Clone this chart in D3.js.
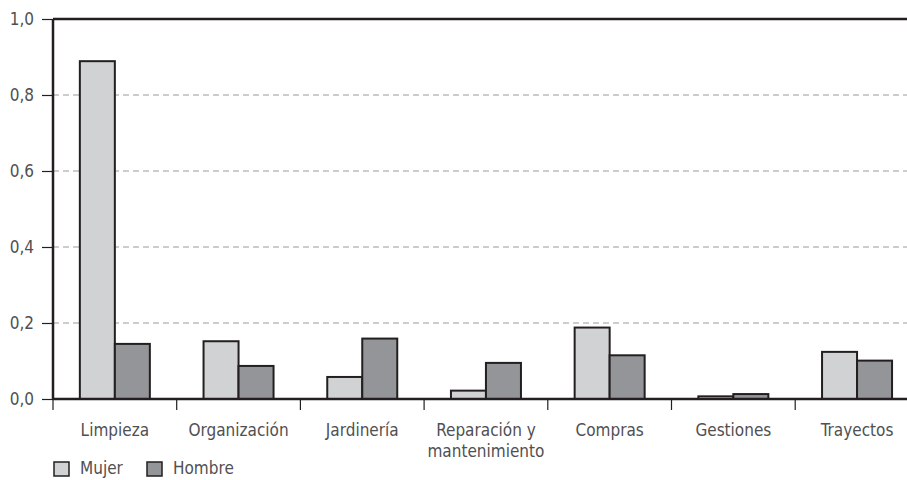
<!DOCTYPE html>
<html>
<head>
<meta charset="utf-8">
<script src="https://cdn.jsdelivr.net/npm/d3@7"></script>
<style>
  body { margin: 0; background: #fff; }
  svg text { font-family: "Liberation Sans Narrow", "DejaVu Sans Condensed", "Roboto", sans-serif; fill: #505052; }
</style>
</head>
<body>
<svg></svg>
<script>
// datos
var categorias = ['Limpieza', 'Organización', 'Jardinería', 'Reparación y\nmantenimiento', 'Compras', 'Gestiones', 'Trayectos'];
var series = ['Mujer', 'Hombre'];
var mujer = [0.889, 0.152, 0.058, 0.022, 0.188, 0.007, 0.124];
var hombre = [0.145, 0.087, 0.159, 0.095, 0.115, 0.013, 0.101];
var yTicks = [0, 0.2, 0.4, 0.6, 0.8, 1.0];
var colores = ['#d1d2d4', '#939598'];

var margin = { top: 19, right: 0, bottom: 81, left: 53 };
var width = 907 - margin.left - margin.right,
    height = 480 - margin.top - margin.bottom;

var svg = d3.select('svg')
    .attr('width', 907)
    .attr('height', 480)
  .append('g')
    .attr('transform', 'translate(' + margin.left + ',' + margin.top + ')');

// las bandas siguen mas alla del borde derecho (el grafico esta recortado)
var x = d3.scaleBand().domain(categorias).range([0, 7 * 123.7]);
var xs = d3.scaleBand().domain(series).range([0, 70]);
var y = d3.scaleLinear().domain([0, 1]).range([height, 0]);

var fmt = function(d) { return d3.format('.1f')(d).replace('.', ','); };

// rejilla
svg.append('g')
  .selectAll('line')
  .data(yTicks.filter(function(d) { return d > 0 && d < 1; }))
  .enter().append('line')
    .attr('x1', 0).attr('x2', width)
    .attr('y1', function(d) { return y(d); })
    .attr('y2', function(d) { return y(d); })
    .attr('stroke', '#9a9a9a')
    .attr('stroke-width', 1)
    .attr('stroke-dasharray', '6,4');

// eje y
var yAxis = d3.axisLeft(y).tickValues(yTicks).tickFormat(fmt).tickSize(11).tickPadding(8);
var gy = svg.append('g').call(yAxis);
gy.select('.domain').remove();
gy.selectAll('line').attr('stroke', '#231f20').attr('stroke-width', 1.2);
gy.selectAll('text').style('font-size', '17px').attr('fill', '#505052');

// barras
var datos = categorias.map(function(c, i) { return { cat: c, vals: [mujer[i], hombre[i]] }; });
var grupos = svg.selectAll('.grupo')
  .data(datos)
  .enter().append('g')
    .attr('transform', function(d) { return 'translate(' + (x(d.cat) + x.bandwidth() / 2 - 35) + ',0)'; });

grupos.selectAll('rect')
  .data(function(d) { return d.vals.map(function(v, j) { return { s: series[j], v: v, j: j }; }); })
  .enter().append('rect')
    .attr('x', function(d) { return xs(d.s); })
    .attr('y', function(d) { return y(d.v); })
    .attr('width', xs.bandwidth())
    .attr('height', function(d) { return height - y(d.v); })
    .attr('fill', function(d) { return colores[d.j]; })
    .attr('stroke', '#231f20')
    .attr('stroke-width', 2);

// eje x
var xAxis = d3.axisBottom(x).tickSize(0).tickFormat('');
var gx = svg.append('g').attr('transform', 'translate(0,' + height + ')').call(xAxis);
gx.select('.domain').remove();
gx.selectAll('.sep')
  .data(categorias)
  .enter().append('line')
    .attr('x1', function(d) { return x(d); })
    .attr('x2', function(d) { return x(d); })
    .attr('y1', 0).attr('y2', 11)
    .attr('stroke', '#231f20').attr('stroke-width', 1.2);

var etiquetas = gx.selectAll('.etq')
  .data(categorias)
  .enter().append('text')
    .attr('text-anchor', 'middle')
    .attr('x', function(d) { return x(d) + x.bandwidth() / 2; })
    .attr('y', 37)
    .style('font-size', '17px');
etiquetas.each(function(d) {
  var lineas = d.split('\n');
  var t = d3.select(this);
  lineas.forEach(function(l, k) {
    t.append('tspan').attr('x', x(d) + x.bandwidth() / 2).attr('dy', k === 0 ? 0 : 21).text(l);
  });
});

// lineas del marco
svg.append('line').attr('x1', 0).attr('x2', width).attr('y1', height).attr('y2', height)
  .attr('stroke', '#231f20').attr('stroke-width', 2.5);
svg.append('line').attr('x1', 0).attr('x2', width).attr('y1', 0).attr('y2', 0)
  .attr('stroke', '#231f20').attr('stroke-width', 2.5);
svg.append('line').attr('x1', 0).attr('x2', 0).attr('y1', 0).attr('y2', height)
  .attr('stroke', '#231f20').attr('stroke-width', 2.5);

// leyenda
var leyenda = svg.append('g').attr('transform', 'translate(0,' + (height + 63) + ')');
var legX = [1, 94];
series.forEach(function(s, i) {
  var g = leyenda.append('g').attr('transform', 'translate(' + legX[i] + ',0)');
  g.append('rect').attr('width', 15).attr('height', 14)
    .attr('fill', colores[i]).attr('stroke', '#231f20').attr('stroke-width', 1.5);
  g.append('text').attr('x', 26).attr('y', 12).style('font-size', '17px').text(s);
});
</script>
</body>
</html>
